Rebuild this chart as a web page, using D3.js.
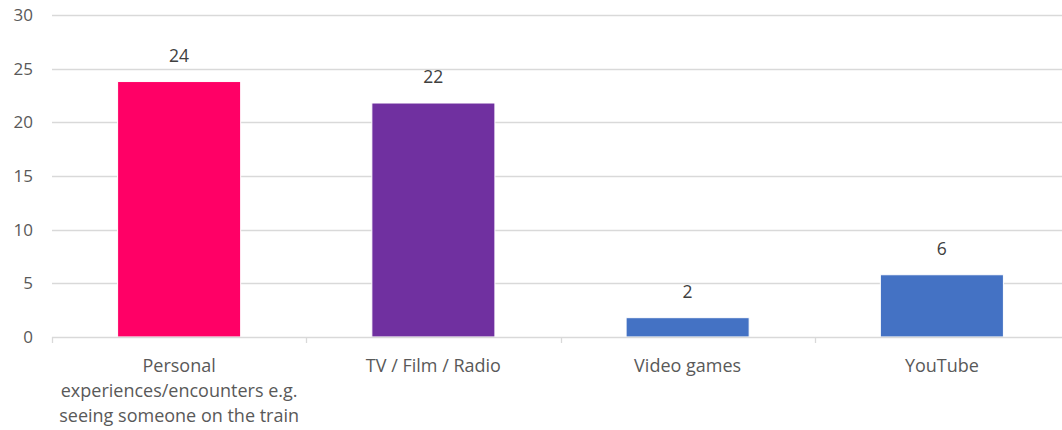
<!DOCTYPE html>
<html>
<head>
  <meta charset="UTF-8">
  <style>
    body { margin: 0; background: #fff; }
    .tick-label { font-family: 'Open Sans', sans-serif; font-size: 17px; fill: #595959; }
    .cat-label { font-family: 'Open Sans', sans-serif; font-size: 18px; fill: #595959; }
    .value-label { font-family: 'Open Sans', sans-serif; font-size: 17.5px; fill: #404040; text-anchor: middle; }
  </style>
</head>
<body>
  <script src="https://d3js.org/d3.v7.min.js"></script>
  <svg id="chart" width="1062" height="430"></svg>
  <script>
    // data
    let categories = ["Personal\nexperiences/encounters e.g.\nseeing someone on the train", "TV / Film / Radio", "Video games", "YouTube"];
    let values = [23.8, 21.8, 1.8, 5.8];
    let barColors = ["#FF0066", "#7030A0", "#4472C4", "#4472C4"];
    let yTicks = [0, 5, 10, 15, 20, 25, 30];

    let margin = {top: 15, left: 52, bottom: 93},
        width = 1017,
        height = 430 - margin.top - margin.bottom;

    let svg = d3.select("#chart")
      .append("g")
        .attr("transform", "translate(" + margin.left + "," + margin.top + ")");

    let x = d3.scaleBand()
      .domain(categories)
      .range([0, width])
      .padding(0);

    let y = d3.scaleLinear()
      .domain([0, 30])
      .range([height, 0]);

    // gridlines
    svg.append("g")
      .selectAll("line")
      .data(yTicks.filter(d => d > 0))
      .enter()
      .append("line")
        .attr("x1", 0)
        .attr("x2", width)
        .attr("y1", d => Math.round(y(d)) + 0.5)
        .attr("y2", d => Math.round(y(d)) + 0.5)
        .attr("stroke", "#d9d9d9")
        .attr("stroke-width", 1.3);

    // y labels
    svg.append("g")
      .selectAll("text")
      .data(yTicks)
      .enter()
      .append("text")
        .attr("class", "tick-label")
        .attr("x", -19)
        .attr("y", d => y(d))
        .attr("dy", "0.35em")
        .attr("text-anchor", "end")
        .text(d => d);

    // bars
    let barW = x.bandwidth() * 0.484;
    svg.selectAll("rect.bar")
      .data(values)
      .enter()
      .append("rect")
        .attr("class", "bar")
        .attr("x", (d, i) => x(categories[i]) + (x.bandwidth() - barW) / 2)
        .attr("y", d => y(d))
        .attr("width", barW)
        .attr("height", d => y(0) - y(d))
        .attr("fill", (d, i) => barColors[i])
        .attr("stroke", "#fff")
        .attr("stroke-width", 1);

    // value labels
    svg.selectAll("text.value-label")
      .data(values)
      .enter()
      .append("text")
        .attr("class", "value-label")
        .attr("x", (d, i) => x(categories[i]) + x.bandwidth() / 2)
        .attr("y", d => y(d) - 20)
        .text(d => d3.format(".0f")(d));

    // x axis
    let xAxis = svg.append("g").attr("transform", "translate(0," + height + ")");
    xAxis.append("line")
      .attr("x1", 0).attr("x2", width)
      .attr("y1", 0.5).attr("y2", 0.5)
      .attr("stroke", "#d9d9d9")
      .attr("stroke-width", 1.3);

    let bounds = categories.map(c => x(c)).concat([width]);
    xAxis.selectAll("line.tick")
      .data(bounds)
      .enter()
      .append("line")
        .attr("class", "tick")
        .attr("x1", d => Math.round(d) + 0.5)
        .attr("x2", d => Math.round(d) + 0.5)
        .attr("y1", 0)
        .attr("y2", 6)
        .attr("stroke", "#d9d9d9")
        .attr("stroke-width", 1.3);

    let labels = xAxis.selectAll("text.cat")
      .data(categories)
      .enter()
      .append("text")
        .attr("class", "cat-label")
        .attr("text-anchor", "middle")
        .attr("transform", d => "translate(" + (x(d) + x.bandwidth() / 2) + ",35)");

    labels.selectAll("tspan")
      .data(d => d.split("\n"))
      .enter()
      .append("tspan")
        .attr("x", 0)
        .attr("y", (d, i) => i * 25)
        .text(d => d);
  </script>
</body>
</html>
